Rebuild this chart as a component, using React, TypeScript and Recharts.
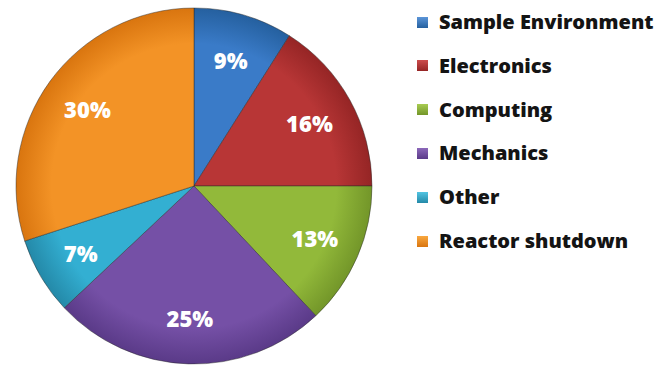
import React from "react";
import { PieChart, Pie, Cell, Legend } from "recharts";

const categories = ["Sample Environment", "Electronics", "Computing", "Mechanics", "Other", "Reactor shutdown"];
const values = [9, 16, 13, 25, 7, 30];
const colors = ["#3a7bc8", "#b83636", "#92b93a", "#7550a6", "#33afd2", "#f39326"];
const darkColors = ["#25609f", "#952525", "#739629", "#5a3a88", "#2489a8", "#d9750f"];
const lightColors = ["#5b95d8", "#cc4d4d", "#a8cc52", "#8c68ba", "#52c4e2", "#f9a840"];

const data = categories.map((name, i) => ({ name, value: values[i] }));

const CX = 194;
const CY = 186;
const R = 178;
const RAD = Math.PI / 180;

const renderLabel = (props: any) => {
  const { cx, cy, midAngle, outerRadius, percent } = props;
  const r = outerRadius * 0.74;
  const x = cx + r * Math.cos(-midAngle * RAD);
  const y = cy + r * Math.sin(-midAngle * RAD);
  return (
    <text
      x={x}
      y={y}
      fill="#ffffff"
      textAnchor="middle"
      dominantBaseline="central"
      fontFamily="'Open Sans', sans-serif"
      fontWeight={800}
      fontSize={22}
    >
      {`${Math.round(percent * 100)}%`}
    </text>
  );
};

const renderLegend = () => (
  <div style={{ position: "absolute", left: 0, top: 0 }}>
    {categories.map((c, i) => (
      <div
        key={c}
        style={{
          position: "absolute",
          left: 0,
          top: i * 43.8,
          display: "flex",
          alignItems: "center",
          whiteSpace: "nowrap",
          fontFamily: "'Open Sans', sans-serif",
          fontWeight: 800,
          fontSize: 20,
          color: "#141414",
          lineHeight: "24px",
        }}
      >
        <span
          style={{
            display: "inline-block",
            width: 11,
            height: 11,
            marginRight: 11,
            background: `linear-gradient(180deg, ${lightColors[i]}, ${darkColors[i]})`,
          }}
        />
        {c}
      </div>
    ))}
  </div>
);

export default function App() {
  return (
    <div style={{ position: "absolute", left: 0, top: 0, width: 664, height: 367, background: "#fff" }}>
      <PieChart width={664} height={367} margin={{ top: 0, right: 0, bottom: 0, left: 0 }}>
        <defs>
          {colors.map((c, i) => (
            <radialGradient
              key={i}
              id={`g${i}`}
              gradientUnits="userSpaceOnUse"
              cx={CX}
              cy={CY}
              r={R}
            >
              <stop offset="0%" stopColor={c} />
              <stop offset="80%" stopColor={c} />
              <stop offset="100%" stopColor={darkColors[i]} />
            </radialGradient>
          ))}
        </defs>
        <Pie
          data={data}
          dataKey="value"
          nameKey="name"
          cx={CX}
          cy={CY}
          outerRadius={R}
          startAngle={90}
          endAngle={-270}
          isAnimationActive={false}
          label={renderLabel}
          labelLine={false}
          stroke="rgba(40,40,40,0.45)"
          strokeWidth={1}
        >
          {data.map((d, i) => (
            <Cell key={d.name} fill={`url(#g${i})`} />
          ))}
        </Pie>
        <Legend
          layout="vertical"
          align="right"
          verticalAlign="top"
          wrapperStyle={{ left: 417, top: 10, width: 247, height: 260 }}
          content={renderLegend}
        />
      </PieChart>
    </div>
  );
}
